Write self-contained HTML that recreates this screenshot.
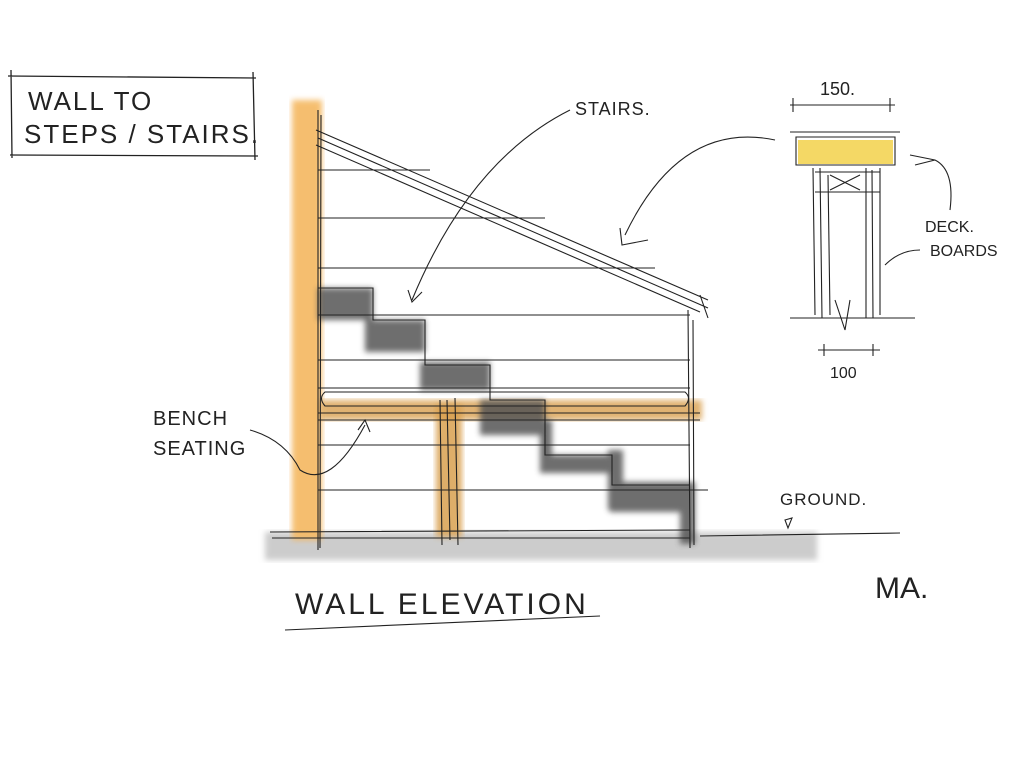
<!DOCTYPE html>
<html><head><meta charset="utf-8"><style>
html,body{margin:0;padding:0;background:#fff;}
svg{display:block}
text{font-family:"Liberation Sans",sans-serif;fill:#222;}
</style></head><body>
<svg width="1024" height="768" viewBox="0 0 1024 768" xmlns="http://www.w3.org/2000/svg">
<defs><filter id="b"><feGaussianBlur stdDeviation="3"/></filter></defs>
<!-- title box -->
<g stroke="#222" stroke-width="1.3" fill="none">
<path d="M8 76 L256 78 M11 70 L12 158 M10 155 L258 156 M253 72 L255 160"/>
</g>
<text x="28" y="110" font-size="26" letter-spacing="2" font-weight="300">WALL TO</text>
<text x="24" y="143" font-size="26" letter-spacing="2" font-weight="300">STEPS / STAIRS.</text>
<!-- ground band -->
<rect x="265" y="532" width="552" height="28" fill="#ccc" filter="url(#b)"/>
<!-- orange wall -->
<rect x="292" y="100" width="30" height="440" fill="#f5b860" opacity="0.9" filter="url(#b)"/>
<!-- bench orange -->
<rect x="320" y="400" width="382" height="20" fill="#d9a050" opacity="0.8" filter="url(#b)"/>
<rect x="436" y="405" width="26" height="132" fill="#d9a050" opacity="0.85" filter="url(#b)"/>
<!-- stair blocks -->
<g fill="#555" opacity="0.85" filter="url(#b)">
<rect x="318" y="288" width="55" height="32"/>
<rect x="365" y="320" width="60" height="32"/>
<rect x="420" y="362" width="70" height="28"/>
<rect x="480" y="400" width="65" height="35"/>
<rect x="540" y="420" width="12" height="50"/>
<rect x="540" y="455" width="72" height="18"/>
<rect x="608" y="450" width="15" height="60"/>
<rect x="610" y="482" width="80" height="30"/>
<rect x="680" y="482" width="15" height="62"/>
</g>
<g stroke="#222" stroke-width="1.1" fill="none">
<!-- wall line -->
<path d="M318 110 L318 550 M321 115 L320 548"/>
<!-- horizontal lines -->
<path d="M318 170 L430 170 M318 218 L545 218 M318 268 L655 268 M318 315 L690 315 M318 360 L690 360 M318 388 L690 388 M318 413 L700 413 M318 420 L700 420 M318 445 L690 445 M318 490 L708 490"/>
<!-- roof -->
<path d="M316 130 L708 300 M318 138 L708 308 M316 145 L700 312 M700 295 L708 318"/>
<!-- right wall -->
<path d="M688 310 L690 548 M693 320 L694 545"/>
<!-- bench -->
<path d="M325 392 L685 392 Q692 398 685 406 L325 406 Q318 398 325 392 Z"/>
<path d="M440 400 L442 545 M455 398 L458 545 M447 400 L450 540"/>
<!-- stairs outline -->
<path d="M318 288 L373 288 L373 320 L425 320 L425 365 L490 365 L490 400 L545 400 L545 455 L612 455 L612 485 L690 485"/>
<!-- ground -->
<path d="M270 532 L690 530 M272 538 L690 538 M700 536 L900 533"/>
<!-- arrows -->
<path d="M570 110 Q470 160 412 300 M408 290 L412 302 L422 292"/>
<path d="M775 140 Q680 120 625 235 M620 228 L622 245 L648 240"/>
<path d="M250 430 Q285 440 300 470 Q330 490 365 425 M358 430 L365 420 L370 432"/>
<path d="M785 520 L792 518 L788 528 Z"/>
<!-- underline title -->
<path d="M285 630 L600 616"/>
<!-- detail -->
<path d="M790 105 L895 105 M793 98 L793 112 M890 98 L890 112"/>
<path d="M796 137 L895 137 L895 165 L796 165 Z M790 132 L900 132"/>
<path d="M813 168 L815 315 M820 168 L822 318 M828 175 L830 315 M866 168 L866 318 M872 170 L873 318 M880 168 L880 315 M815 172 L880 172 M815 192 L880 192 M830 175 L860 190 M860 175 L830 190"/>
<path d="M790 318 L915 318 M835 300 L845 330 L850 300"/>
<path d="M818 350 L880 350 M824 344 L824 356 M873 344 L873 356"/>
<path d="M935 160 Q955 170 950 210 M910 155 L935 160 L915 165"/>
<path d="M920 250 Q900 250 885 265"/>
</g>
<rect x="798" y="140" width="95" height="24" fill="#f2d14a" opacity="0.85"/>
<text x="575" y="115" font-size="18" letter-spacing="1">STAIRS.</text>
<text x="153" y="425" font-size="20" letter-spacing="1">BENCH</text>
<text x="153" y="455" font-size="20" letter-spacing="1">SEATING</text>
<text x="780" y="505" font-size="17" letter-spacing="1">GROUND.</text>
<text x="295" y="614" font-size="30" letter-spacing="3" font-weight="300">WALL ELEVATION</text>
<text x="875" y="598" font-size="30">MA.</text>
<text x="820" y="95" font-size="18">150.</text>
<text x="830" y="378" font-size="16">100</text>
<text x="925" y="232" font-size="16">DECK.</text>
<text x="930" y="256" font-size="16">BOARDS</text>
</svg>
</body></html>
